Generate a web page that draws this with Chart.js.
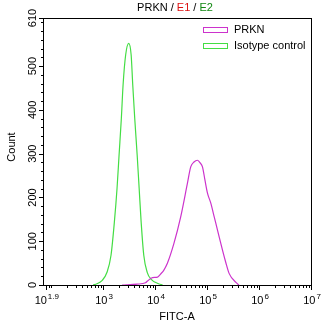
<!DOCTYPE html>
<html>
<head>
<meta charset="utf-8">
<script src="https://cdn.jsdelivr.net/npm/chart.js@4/dist/chart.umd.min.js"></script>
<style>
  html, body { margin: 0; padding: 0; background: #fff; }
  #wrap { width: 324px; height: 327px; position: relative; }
</style>
</head>
<body>
<div id="wrap"><canvas id="hist"></canvas></div>
<script>
// FITC-A intensities and event counts for the two histograms
var prknX = [2328, 4539, 6561, 7178, 8954, 11194, 12794, 14622, 17219, 23121, 31117, 41976, 48641, 56234, 65464, 72444, 81846, 91201, 102094, 118304, 138038, 159587, 199067, 229087, 267301, 359749, 411150];
var prknY = [0, 2, 5, 9, 17, 18, 25, 33, 49, 95, 155, 232, 270, 281, 285, 280, 270, 240, 210, 187, 155, 125, 79, 52, 26, 6, 0];
var isoX = [646, 766, 955, 1194, 1426, 1652, 1862, 2037, 2254, 2432, 2729, 3119, 3475, 3733, 4074, 4539, 4955, 5420, 6081, 7079, 8453, 11695, 13996];
var isoY = [0, 3, 10, 29, 68, 143, 221, 297, 381, 457, 526, 552, 526, 457, 381, 297, 221, 143, 68, 29, 13, 3, 0];

var seriesNames = ['PRKN', 'Isotype control'];
var seriesColors = ['#cc33cc', '#44dd44'];

// axis ticks
var xMajorExp = [1.9, 3, 4, 5, 6, 7];
var yMajor = [0, 100, 200, 300, 400, 500, 610];
var xMin = Math.pow(10, 1.846), xMax = 1e7;
var yMin = 0, yMax = 610;

var FONT = '"Liberation Sans", Arial, sans-serif';

function pairs(xs, ys) {
  return xs.map(function(x, i) { return { x: x, y: ys[i] }; });
}

function drawPow(ctx, exp, cx, y) {
  var base = '10', sup = String(exp);
  ctx.font = '11px ' + FONT;
  var wb = ctx.measureText(base).width;
  ctx.font = '8px ' + FONT;
  var ws = ctx.measureText(sup).width;
  var x0 = cx - (wb + 1 + ws) / 2;
  ctx.textAlign = 'left';
  ctx.textBaseline = 'alphabetic';
  ctx.font = '11px ' + FONT;
  ctx.fillText(base, x0, y);
  ctx.font = '8px ' + FONT;
  ctx.fillText(sup, x0 + wb + 1, y - 5);
}

var axesPlugin = {
  id: 'flowAxes',
  afterDraw: function(chart) {
    var ctx = chart.ctx, a = chart.chartArea;
    var xs = chart.scales.x, ys = chart.scales.y;
    ctx.save();
    ctx.strokeStyle = '#000';
    ctx.fillStyle = '#000';
    ctx.lineWidth = 1;

    // frame
    ctx.strokeRect(Math.round(a.left) + 0.5, Math.round(a.top) + 0.5,
      Math.round(a.right - a.left), Math.round(a.bottom - a.top));

    var by = Math.round(a.bottom) + 0.5;
    var lx = Math.round(a.left) + 0.5;

    // x minor ticks
    ctx.beginPath();
    for (var d = 1; d < 7; d++) {
      for (var m = 1; m <= 9; m++) {
        var v = m * Math.pow(10, d);
        if (v < xMin || v > xMax) continue;
        var px = Math.round(xs.getPixelForValue(v)) + 0.5;
        ctx.moveTo(px, by);
        ctx.lineTo(px, by + 2.5);
      }
    }
    // x major ticks
    xMajorExp.forEach(function(e) {
      var px = Math.round(xs.getPixelForValue(Math.pow(10, e))) + 0.5;
      ctx.moveTo(px, by);
      ctx.lineTo(px, by + 4.5);
    });
    // y minor ticks
    for (var c = 0; c <= 600; c += 20) {
      var py = Math.round(ys.getPixelForValue(c)) + 0.5;
      ctx.moveTo(lx, py);
      ctx.lineTo(lx - 2.5, py);
    }
    yMajor.forEach(function(c) {
      var py = Math.round(ys.getPixelForValue(c)) + 0.5;
      ctx.moveTo(lx, py);
      ctx.lineTo(lx - 4.5, py);
    });
    ctx.stroke();

    // x tick labels
    xMajorExp.forEach(function(e) {
      drawPow(ctx, e, xs.getPixelForValue(Math.pow(10, e)) + 1, by + 18);
    });

    // y tick labels, rotated
    ctx.font = '11px ' + FONT;
    ctx.textAlign = 'center';
    ctx.textBaseline = 'middle';
    yMajor.forEach(function(c) {
      ctx.save();
      ctx.translate(lx - 11, ys.getPixelForValue(c));
      ctx.rotate(-Math.PI / 2);
      ctx.fillText(String(c), 0, 0);
      ctx.restore();
    });

    // axis titles
    ctx.font = '11px ' + FONT;
    ctx.fillText('FITC-A', (a.left + a.right) / 2, 317);
    ctx.save();
    ctx.translate(12, 147);
    ctx.rotate(-Math.PI / 2);
    ctx.fillText('Count', 0, 0);
    ctx.restore();

    // title with coloured parts
    var parts = [['PRKN', '#000'], [' / ', '#000'], ['E1', '#dd1111'], [' / ', '#000'], ['E2', '#118811']];
    ctx.font = '11px ' + FONT;
    var total = 0;
    parts.forEach(function(p) { total += ctx.measureText(p[0]).width; });
    var tx = 175 - total / 2;
    ctx.textAlign = 'left';
    parts.forEach(function(p) {
      ctx.fillStyle = p[1];
      ctx.fillText(p[0], tx, 8);
      tx += ctx.measureText(p[0]).width;
    });

    // legend
    chart.data.datasets.forEach(function(ds, i) {
      var ly = 27 + i * 16;
      ctx.strokeStyle = ds.borderColor;
      ctx.strokeRect(203.5, ly + 0.5, 24, 5);
      ctx.fillStyle = '#000';
      ctx.textBaseline = 'middle';
      ctx.fillText(ds.label, 234, ly + 3);
    });
    ctx.restore();
  }
};

new Chart(document.getElementById('hist'), {
  type: 'line',
  data: {
    datasets: [
      { label: seriesNames[0], data: pairs(prknX, prknY), borderColor: seriesColors[0], borderWidth: 1.2, pointRadius: 0, fill: false, cubicInterpolationMode: 'monotone' },
      { label: seriesNames[1], data: pairs(isoX, isoY), borderColor: seriesColors[1], borderWidth: 1.2, pointRadius: 0, fill: false, cubicInterpolationMode: 'monotone' }
    ]
  },
  options: {
    responsive: true,
    maintainAspectRatio: false,
    animation: false,
    layout: { padding: { left: 43, top: 18, right: 13, bottom: 42 } },
    scales: {
      x: { type: 'logarithmic', min: xMin, max: xMax, display: false },
      y: { type: 'linear', min: yMin, max: yMax, display: false }
    },
    plugins: {
      legend: { display: false },
      title: { display: false },
      tooltip: { enabled: false }
    }
  },
  plugins: [axesPlugin]
});
</script>
</body>
</html>
